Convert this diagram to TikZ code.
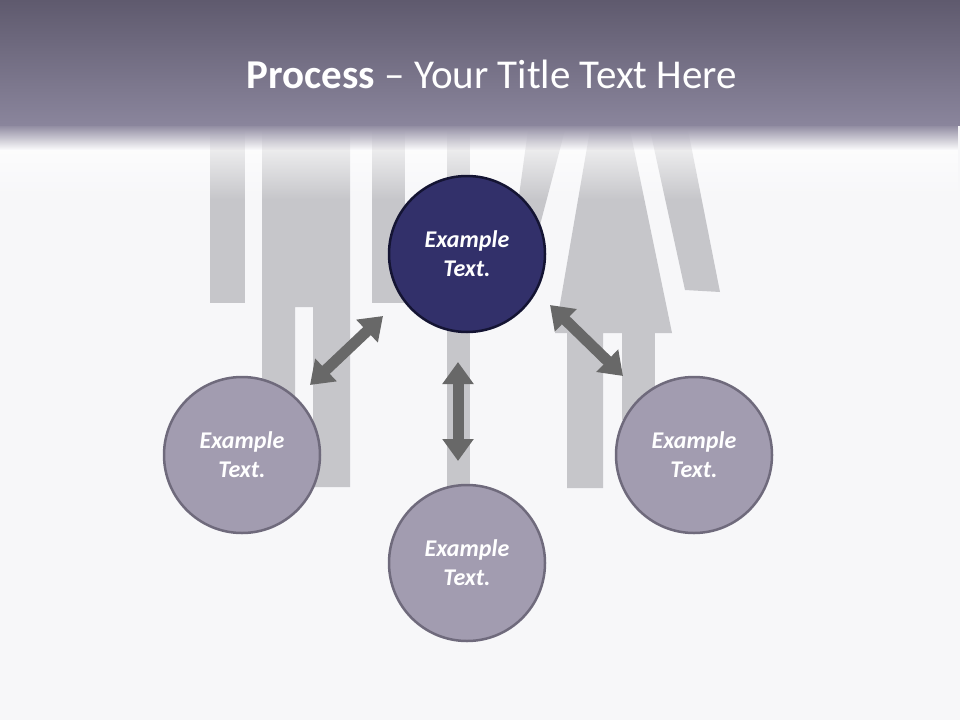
\documentclass[tikz,border=0pt]{standalone}
\usepackage{fontspec}
\setmainfont{Carlito}
\usetikzlibrary{arrows.meta,fadings}
\definecolor{bg}{HTML}{F7F7F9}
\definecolor{hdtop}{HTML}{5F5A6E}
\definecolor{hdbot}{HTML}{8A859C}
\definecolor{bar}{HTML}{C6C6CA}
\definecolor{dark}{HTML}{32306A}
\definecolor{darkb}{HTML}{141433}
\definecolor{lite}{HTML}{A29CB0}
\definecolor{liteb}{HTML}{6F6A7C}
\definecolor{arr}{HTML}{686868}
\tikzset{
  circ/.style={circle,minimum size=156pt,inner sep=0pt,line width=2.5pt,text=white,font=\fontsize{24}{29}\selectfont\bfseries\itshape,align=center},
  dbl/.style={arr,line width=11pt,{Triangle[width=30pt,length=22pt]}-{Triangle[width=30pt,length=22pt]}}
}
\begin{document}
\begin{tikzpicture}[x=1pt,y=-1pt]
\useasboundingbox (0,0) rectangle (960,720);
\fill[bg] (0,0) rectangle (960,720);
% background bars
\fill[bar] (210,130) rectangle (245,303);
\fill[bar] (262,130) -- (350,130) -- (350,487) -- (313,487) -- (313,307) -- (295,307) -- (295,487) -- (262,487) -- cycle;
\fill[bar] (372,130) rectangle (405,303);
\fill[bar] (447,130) rectangle (470,490);
\fill[bar] (528,130) -- (565,130) -- (540,225) -- (515,225) -- cycle;
\fill[bar] (590,130) -- (630,130) -- (672,333) -- (603,333) -- (603,488) -- (567,488) -- (567,333) -- (555,333) -- cycle;
\fill[bar] (622,333) rectangle (655,420);
\fill[bar] (650,130) -- (688,130) -- (720,292) -- (685,290) -- cycle;
% header
\fill[white,path fading=south] (0,125) rectangle (960,200);
\fill[hdbot,path fading=south] (0,124) rectangle (960,150);
\shade[top color=hdtop,bottom color=hdbot] (0,0) rectangle (960,125);
\node[text=white,font=\fontsize{41}{48}\selectfont] (title) at (492,74) {\textbf{Process} -- Your Title Text Here};
% circles
\node[circ,fill=dark,draw=darkb] (c0) at (467,254) {Example\\Text.};
\node[circ,fill=lite,draw=liteb] (c1) at (242,455) {Example\\Text.};
\node[circ,fill=lite,draw=liteb] (c2) at (467,563) {Example\\Text.};
\node[circ,fill=lite,draw=liteb] (c3) at (694,455) {Example\\Text.};
% arrows
\coordinate (a1s) at (310,385); \coordinate (a1e) at (383,316);
\coordinate (a2s) at (458,362); \coordinate (a2e) at (458,461);
\coordinate (a3s) at (550,305); \coordinate (a3e) at (623,376);
\draw[dbl] (a1s) -- (a1e);
\draw[dbl] (a2s) -- (a2e);
\draw[dbl] (a3s) -- (a3e);
\end{tikzpicture}
\end{document}
